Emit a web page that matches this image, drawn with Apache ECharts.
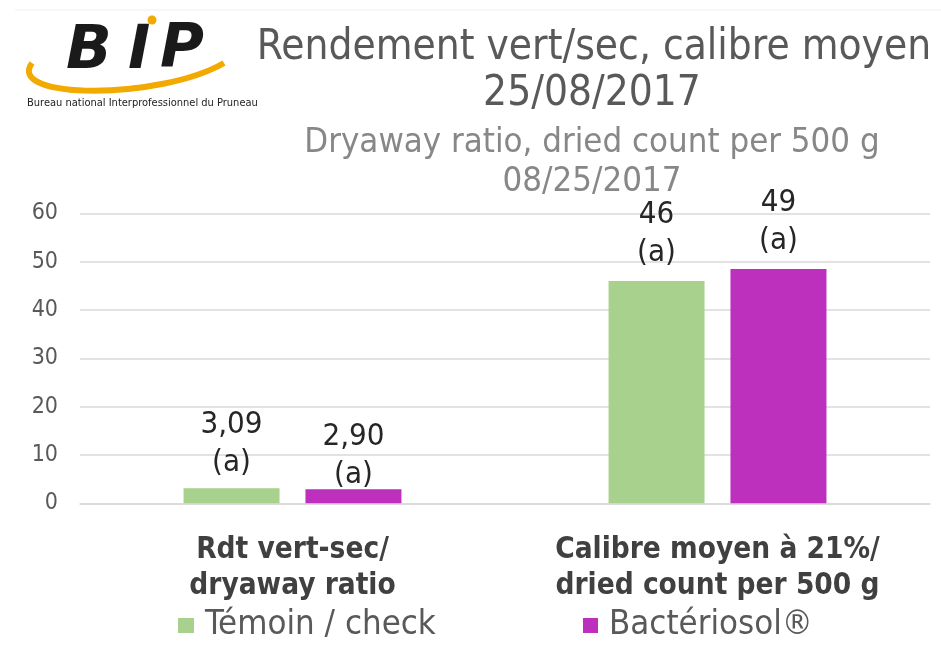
<!DOCTYPE html>
<html><head><meta charset="utf-8">
<script src="https://cdn.jsdelivr.net/npm/echarts@6/dist/echarts.min.js"></script>
<style>html,body{margin:0;padding:0;background:#fff}#c{width:941px;height:653px}</style>
</head><body><div id="c"></div>
<script>
var categories = ['Rdt vert-sec/\ndryaway ratio', 'Calibre moyen à 21%/\ndried count per 500 g'];
var seriesNames = ['Témoin / check', 'Bactériosol®'];
var temoinValues = [3.09, 46];
var bacterioValues = [2.90, 48.5];
var temoinLabels = ['3,09', '46'];
var bacterioLabels = ['2,90', '49'];
var temoinLetters = ['a', 'a'];
var bacterioLetters = ['a', 'a'];
var yTicks = [0, 10, 20, 30, 40, 50, 60];
var titleLines = ['Rendement vert/sec, calibre moyen', '25/08/2017'];
var subtitleLines = ['Dryaway ratio, dried count per 500 g', '08/25/2017'];

var FONT = '"DejaVu Sans Condensed", "DejaVu Sans", sans-serif';
var chart = echarts.init(document.getElementById('c'));

function mkData(vals, offs) {
  return vals.map(function (v, i) {
    return { value: v, label: { offset: [0, offs[i]] } };
  });
}
function mkFormatter(nums, letters) {
  return function (p) { return nums[p.dataIndex] + '\n(' + letters[p.dataIndex] + ')'; };
}
function titleStyle(size, color) {
  return { fontFamily: FONT, fontSize: size, fontWeight: 'normal', color: color, lineHeight: size };
}

chart.setOption({
  animation: false,
  textStyle: { fontFamily: FONT },
  title: [
    { text: titleLines[0], left: 589, top: 22, textAlign: 'center', textStyle: titleStyle(42, '#595959') },
    { text: titleLines[1], left: 587, top: 68, textAlign: 'center', textStyle: titleStyle(42, '#595959') },
    { text: subtitleLines[0], left: 587, top: 121, textAlign: 'center', textStyle: titleStyle(34.5, '#878787') },
    { text: subtitleLines[1], left: 587, top: 160, textAlign: 'center', textStyle: titleStyle(34.5, '#878787') }
  ],
  legend: [
    { left: 173, top: 603, itemWidth: 16, itemHeight: 15, icon: 'rect',
      textStyle: { fontFamily: FONT, fontSize: 34.5, color: '#595959', padding: [0, 0, 0, 6] },
      data: [seriesNames[0]] },
    { left: 578, top: 603, itemWidth: 15, itemHeight: 15, icon: 'rect',
      textStyle: { fontFamily: FONT, fontSize: 34.5, color: '#595959', padding: [0, 0, 0, 6] },
      data: [seriesNames[1]] }
  ],
  grid: { left: 80, right: 11, top: 213.3, bottom: 149.7 },
  xAxis: {
    type: 'category', data: categories,
    axisTick: { show: false },
    axisLine: { lineStyle: { color: '#d9d9d9', width: 1.5 } },
    axisLabel: { interval: 0, fontFamily: FONT, fontSize: 29.5, fontWeight: 'bold', color: '#404040', lineHeight: 36, margin: 29 }
  },
  yAxis: {
    type: 'value', min: yTicks[0], max: yTicks[yTicks.length - 1], interval: 10,
    axisLine: { show: false }, axisTick: { show: false },
    splitLine: { lineStyle: { color: '#d9d9d9', width: 1.5 } },
    axisLabel: { fontFamily: FONT, fontSize: 23, color: '#595959', margin: 22 }
  },
  series: [
    { name: seriesNames[0], type: 'bar', barWidth: 96, barGap: '27%',
      itemStyle: { color: '#a9d18e' },
      data: mkData(temoinValues, [-6, -9]),
      label: { show: true, position: 'top', distance: 0, fontFamily: FONT, fontSize: 31, lineHeight: 38, color: '#262626',
        formatter: mkFormatter(temoinLabels, temoinLetters) } },
    { name: seriesNames[1], type: 'bar', barWidth: 96,
      itemStyle: { color: '#bd2fbd' },
      data: mkData(bacterioValues, [5, -9]),
      label: { show: true, position: 'top', distance: 0, fontFamily: FONT, fontSize: 31, lineHeight: 38, color: '#262626',
        formatter: mkFormatter(bacterioLabels, bacterioLetters) } }
  ],
  graphic: [
    { type: 'line', shape: { x1: 15, y1: 10, x2: 941, y2: 10 }, style: { stroke: '#eeeeee', lineWidth: 1 } },
    { type: 'bezierCurve', shape: { x1: 32, y1: 63, cpx1: 5, cpy1: 100, cpx2: 160, cpy2: 100, x2: 224, y2: 63 },
      style: { stroke: '#f2a900', lineWidth: 6, fill: null } },
    { type: 'text', left: 66, top: 22, style: { text: 'B', font: 'italic bold 60px "DejaVu Sans", sans-serif', fill: '#1a1a1a' } },
    { type: 'text', left: 128, top: 22, style: { text: 'I', font: 'italic bold 60px "DejaVu Sans", sans-serif', fill: '#1a1a1a' } },
    { type: 'text', left: 160, top: 20, style: { text: 'P', font: 'italic bold 60px "DejaVu Sans", sans-serif', fill: '#1a1a1a' } },
    { type: 'circle', shape: { cx: 152, cy: 20, r: 4.5 }, style: { fill: '#f2a900' } },
    { type: 'ellipse', shape: { cx: 238, cy: 56, rx: 15, ry: 9 }, rotation: 0.35, style: { fill: '#3a3a3a', stroke: '#000', lineWidth: 1.5 } },
    { type: 'text', left: 27, top: 98, style: { text: 'Bureau national Interprofessionnel du Pruneau', font: '11px "DejaVu Sans Condensed", sans-serif', fill: '#222' } }
  ]
});
</script></body></html>
